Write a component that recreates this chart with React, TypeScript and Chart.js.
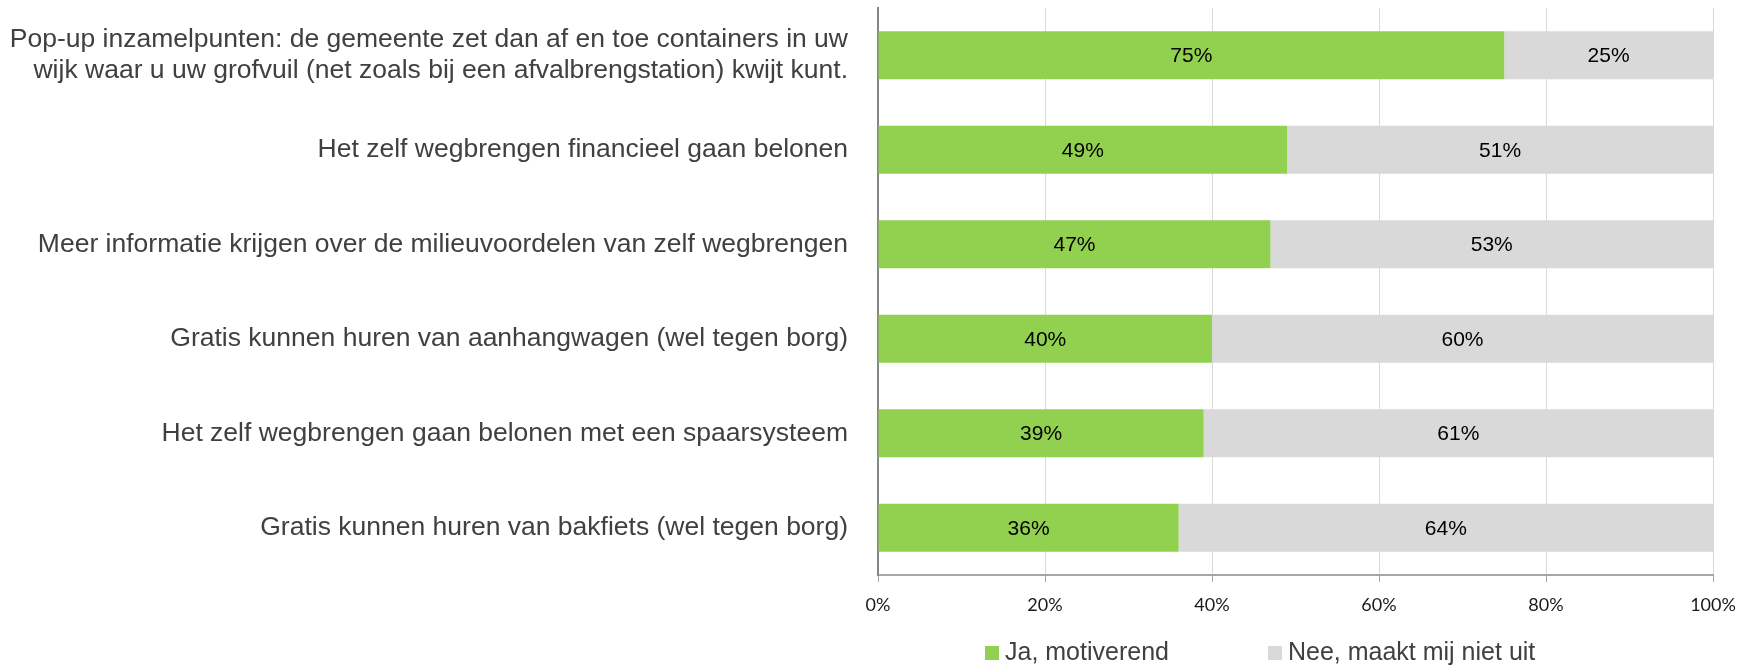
import React, { useEffect, useRef } from "react";
import { Chart, registerables } from "chart.js";

Chart.register(...registerables);

const categories: (string | string[])[] = [
  [
    "Pop-up inzamelpunten: de gemeente zet dan af en toe containers in uw",
    "wijk waar u uw grofvuil (net zoals bij een afvalbrengstation) kwijt kunt.",
  ],
  "Het zelf wegbrengen financieel gaan belonen",
  "Meer informatie krijgen over de milieuvoordelen van zelf wegbrengen",
  "Gratis kunnen huren van aanhangwagen (wel tegen borg)",
  "Het zelf wegbrengen gaan belonen met een spaarsysteem",
  "Gratis kunnen huren van bakfiets (wel tegen borg)",
];
const jaValues = [75, 49, 47, 40, 39, 36];
const neeValues = [25, 51, 53, 60, 61, 64];
const seriesNames = ["Ja, motiverend", "Nee, maakt mij niet uit"];
const seriesColors = ["#92D050", "#D9D9D9"];
const xTickMax = 100;
const xTickStep = 20;

const dataLabelPlugin = {
  id: "dataLabels",
  afterDatasetsDraw(chart: any) {
    const ctx = chart.ctx;
    ctx.save();
    ctx.font = '21px "Liberation Sans", Arial, sans-serif';
    ctx.fillStyle = "#000000";
    ctx.textAlign = "center";
    ctx.textBaseline = "middle";
    chart.data.datasets.forEach((ds: any, di: number) => {
      const meta = chart.getDatasetMeta(di);
      meta.data.forEach((bar: any, i: number) => {
        const v = ds.data[i];
        const x = (bar.x + bar.base) / 2;
        ctx.fillText(`${v}%`, x, bar.y + 1);
      });
    });
    ctx.restore();
  },
};

const legendPlugin = {
  id: "customLegend",
  afterDraw(chart: any) {
    const ctx = chart.ctx;
    ctx.save();
    ctx.font = '25px "Liberation Sans", Arial, sans-serif';
    ctx.textBaseline = "middle";
    ctx.textAlign = "left";
    let x = 985;
    const cy = 653;
    const box = 14;
    chart.data.datasets.forEach((ds: any) => {
      ctx.fillStyle = ds.backgroundColor;
      ctx.fillRect(x, cy - box / 2, box, box);
      x += box + 6;
      ctx.fillStyle = "#404040";
      ctx.fillText(ds.label, x, cy);
      x += ctx.measureText(ds.label).width + 99;
    });
    ctx.restore();
  },
};

export default function App() {
  const ref = useRef<HTMLCanvasElement | null>(null);
  useEffect(() => {
    document.body.style.margin = "0";
    if (!ref.current) return;
    const chart = new Chart(ref.current, {
      type: "bar",
      data: {
        labels: categories,
        datasets: [
          {
            label: seriesNames[0],
            data: jaValues,
            backgroundColor: seriesColors[0],
            barPercentage: 0.51,
            categoryPercentage: 1,
          },
          {
            label: seriesNames[1],
            data: neeValues,
            backgroundColor: seriesColors[1],
            barPercentage: 0.51,
            categoryPercentage: 1,
          },
        ],
      },
      options: {
        indexAxis: "y",
        responsive: false,
        animation: false,
        devicePixelRatio: 1,
        layout: { padding: { top: 8, right: 43, bottom: 0, left: 0 } },
        plugins: {
          legend: { display: false },
          tooltip: { enabled: false },
        },
        scales: {
          x: {
            stacked: true,
            min: 0,
            max: xTickMax,
            ticks: {
              stepSize: xTickStep,
              callback: (v: any) => `${v}%`,
              font: { family: "Lato, 'Open Sans', sans-serif", size: 18 },
              color: "#1a1a1a",
              padding: 12,
              maxRotation: 0,
            },
            grid: {
              color: "#D9D9D9",
              tickColor: "#A6A6A6",
              tickLength: 7,
              lineWidth: 1,
            },
            border: { display: true, color: "#A6A6A6", width: 2 },
            afterFit: (scale: any) => {
              scale.height = 91;
            },
          },
          y: {
            stacked: true,
            ticks: {
              font: { family: "'Liberation Sans', Arial, sans-serif", size: 26.5, lineHeight: 1.18 },
              color: "#404040",
              padding: 22,
            },
            grid: { display: false },
            border: { display: true, color: "#868686", width: 2 },
            afterFit: (scale: any) => {
              scale.width = 878;
              scale.paddingTop = 0;
              scale.paddingBottom = 0;
            },
          },
        },
      },
      plugins: [dataLabelPlugin, legendPlugin],
    });
    return () => chart.destroy();
  }, []);
  return (
    <div style={{ width: 1756, height: 666 }}>
      <canvas ref={ref} width={1756} height={666} />
    </div>
  );
}
